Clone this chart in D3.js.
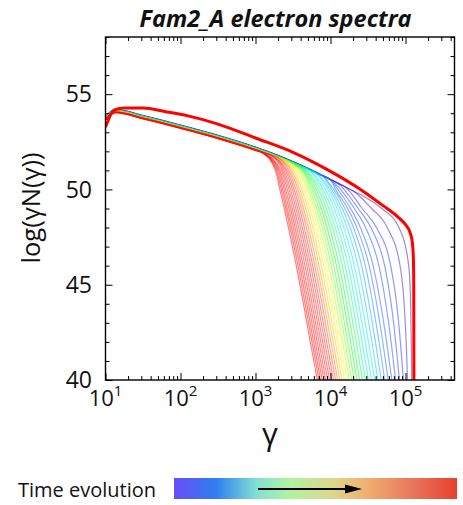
<!DOCTYPE html>
<html><head><meta charset="utf-8">
<script src="https://cdn.jsdelivr.net/npm/d3@7"></script>
<style>body{margin:0;background:#fff} svg{display:block}</style>
</head><body>
<svg id="chart" width="463" height="505"></svg>
<script>
// ---------------- DATA ----------------
const chartTitle = "Fam2_A electron spectra";
const yAxisTitle = "log(\u03B3N(\u03B3))";
const xAxisTitle = "\u03B3";
const legendText = "Time evolution";

const xMajorTicks = [1e1, 1e2, 1e3, 1e4, 1e5];
const xTickExponents = ["1", "2", "3", "4", "5"];
const yMajorTicks = [40, 45, 50, 55];

// common (uncooled) part of the thin spectra, log10(gamma) vs log(gamma N)
const envelopeLogGamma = [1.0, 1.13, 1.5, 2.0, 2.5, 3.0, 3.1, 3.2, 3.3, 3.4, 3.5, 3.6, 3.7, 3.8, 3.9, 4.0, 4.1, 4.2, 4.3, 4.4, 4.5];
const envelopeLogN     = [53.82, 54.20, 53.88, 53.38, 52.84, 52.22, 52.08, 51.94, 51.79, 51.63, 51.46, 51.29, 51.11, 50.92, 50.73, 50.53, 50.33, 50.13, 49.93, 49.73, 49.53];

// per-curve (earliest -> latest) offset of the common part
const curveShift = [0, -0.005, -0.01, -0.015, -0.02, -0.025, -0.03, -0.035, -0.04, -0.045, -0.05, -0.055, -0.06, -0.065, -0.07, -0.075, -0.08, -0.085, -0.09, -0.095, -0.10, -0.105, -0.11, -0.115, -0.12, -0.125, -0.13, -0.135, -0.14, -0.145, -0.15, -0.155, -0.16, -0.165, -0.17, -0.175];
// log10(gamma) where each curve leaves the common part
const curveKnee = [4.4, 4.3, 4.2, 4.1, 4.0, 4.0, 4.0, 3.9, 3.9, 3.8, 3.8, 3.7, 3.7, 3.6, 3.6, 3.6, 3.5, 3.5, 3.5, 3.4, 3.4, 3.4, 3.3, 3.3, 3.3, 3.3, 3.2, 3.2, 3.2, 3.2, 3.1, 3.1, 3.1, 3.1, 3.1, 3.1];
// high-energy tails: log10(gamma) at which each curve crosses these levels
const tailLevels = [51, 50, 49, 48, 46, 44, 42, 40];
const tailLogGamma = [
  [null, null, 4.683, 4.913, 5.043, 5.068, 5.077, 5.083],
  [null, null, 4.547, 4.757, 4.927, 4.982, 5.009, 5.027],
  [null, null, 4.422, 4.612, 4.802, 4.882, 4.932, 4.972],
  [null, null, 4.369, 4.539, 4.722, 4.809, 4.869, 4.919],
  [null, null, 4.318, 4.468, 4.645, 4.738, 4.808, 4.868],
  [null, 4.098, 4.268, 4.398, 4.568, 4.668, 4.748, 4.818],
  [null, 4.069, 4.229, 4.351, 4.515, 4.615, 4.697, 4.769],
  [null, 4.042, 4.192, 4.306, 4.464, 4.564, 4.647, 4.722],
  [null, 4.016, 4.156, 4.262, 4.414, 4.514, 4.599, 4.676],
  [null, 3.992, 4.122, 4.220, 4.366, 4.466, 4.552, 4.632],
  [null, 3.968, 4.088, 4.178, 4.318, 4.418, 4.506, 4.588],
  [null, 3.934, 4.050, 4.138, 4.276, 4.375, 4.463, 4.546],
  [null, 3.901, 4.013, 4.099, 4.235, 4.333, 4.422, 4.505],
  [null, 3.870, 3.978, 4.062, 4.196, 4.294, 4.382, 4.466],
  [null, 3.839, 3.943, 4.025, 4.157, 4.254, 4.343, 4.427],
  [null, 3.809, 3.909, 3.989, 4.116, 4.215, 4.304, 4.389],
  [null, 3.781, 3.877, 3.955, 4.080, 4.178, 4.267, 4.353],
  [3.637, 3.753, 3.845, 3.921, 4.044, 4.141, 4.231, 4.317],
  [3.610, 3.727, 3.815, 3.889, 4.010, 4.107, 4.196, 4.283],
  [3.582, 3.701, 3.785, 3.857, 3.976, 4.072, 4.162, 4.249],
  [3.557, 3.677, 3.757, 3.827, 3.942, 4.039, 4.129, 4.217],
  [3.532, 3.648, 3.726, 3.795, 3.910, 4.007, 4.097, 4.185],
  [3.507, 3.619, 3.697, 3.765, 3.878, 3.975, 4.065, 4.154],
  [3.484, 3.592, 3.668, 3.735, 3.848, 3.945, 4.035, 4.124],
  [3.462, 3.566, 3.640, 3.706, 3.819, 3.915, 4.006, 4.095],
  [3.440, 3.540, 3.614, 3.679, 3.790, 3.887, 3.977, 4.067],
  [3.419, 3.515, 3.587, 3.651, 3.762, 3.858, 3.949, 4.039],
  [3.400, 3.492, 3.562, 3.625, 3.736, 3.832, 3.923, 4.013],
  [3.380, 3.468, 3.538, 3.600, 3.709, 3.805, 3.896, 3.987],
  [3.362, 3.446, 3.514, 3.575, 3.684, 3.780, 3.871, 3.962],
  [3.344, 3.424, 3.490, 3.550, 3.659, 3.754, 3.846, 3.937],
  [3.326, 3.402, 3.468, 3.527, 3.634, 3.730, 3.822, 3.913],
  [3.310, 3.382, 3.446, 3.504, 3.611, 3.706, 3.798, 3.890],
  [3.294, 3.362, 3.424, 3.481, 3.588, 3.683, 3.775, 3.867],
  [3.279, 3.343, 3.405, 3.461, 3.566, 3.661, 3.753, 3.846],
  [3.264, 3.324, 3.384, 3.439, 3.544, 3.639, 3.731, 3.824]
];

// thick red spectrum
const injLogGamma = [1.0, 1.12, 1.25, 1.5, 1.8, 2.1, 2.5, 3.0, 3.5, 4.0, 4.4, 4.7, 4.9, 5.0, 5.06, 5.09, 5.105, 5.11, 5.112];
const injLogN     = [53.27, 54.18, 54.27, 54.27, 54.08, 53.86, 53.43, 52.70, 51.95, 50.95, 50.00, 49.15, 48.55, 48.15, 47.75, 47.25, 46.40, 45.00, 40.00];

// colour map for the time sequence
const colorStops  = [0, 0.05, 0.18, 0.28, 0.36, 0.46, 0.58, 0.66, 0.74, 1];
const colorValues = ["#4a1090", "#2a2aff", "#2070ff", "#00e8ff", "#00ff9a", "#00ff00", "#ffff00", "#ff9a00", "#ff2a2a", "#ff0000"];
const barStops  = [0, 0.15, 0.29, 0.41, 0.56, 0.68, 0.86, 1];
const barColors = ["#6b4cf6", "#2f7ff0", "#80e0d4", "#b2f2a0", "#dcd78c", "#f0b070", "#e8705a", "#e8402f"];

// ---------------- CHART ----------------
const svg = d3.select("#chart");
const FONT = "'Open Sans', 'Noto Sans', sans-serif";
const L = 105.5, R = 454.5, T = 37, B = 380;
const x = d3.scaleLog().domain([10, 4.5e5]).range([L, R]);
const y = d3.scaleLinear().domain([40, 58]).range([B, T]);
const color = d3.scaleLinear().domain(colorStops).range(colorValues);

svg.append("defs").append("clipPath").attr("id", "plotclip")
  .append("rect").attr("x", L).attr("y", T).attr("width", R - L).attr("height", B - T);

const line = d3.line().x(d => x(Math.pow(10, d[0]))).y(d => y(d[1])).curve(d3.curveMonotoneX);

const plot = svg.append("g").attr("clip-path", "url(#plotclip)");
const nC = tailLogGamma.length;
tailLogGamma.forEach((row, k) => {
  const pts = [];
  envelopeLogGamma.forEach((lg, i) => {
    if (lg <= curveKnee[k] + 1e-9) pts.push([lg, envelopeLogN[i] + curveShift[k]]);
  });
  row.forEach((lg, j) => { if (lg !== null) pts.push([lg, tailLevels[j]]); });
  plot.append("path").attr("d", line(pts))
    .attr("fill", "none").attr("stroke", color(k / (nC - 1)))
    .attr("stroke-opacity", 0.5).attr("stroke-width", 1.2);
});
plot.append("path").attr("d", line(injLogGamma.map((g, i) => [g, injLogN[i]])))
  .attr("fill", "none").attr("stroke", "#ff0000").attr("stroke-width", 3).attr("stroke-linejoin", "round");

// axes (ticks inward)
const xMinor = [];
for (let e = 1; e <= 5; e++) for (let m = 2; m <= 9; m++) { const v = m * Math.pow(10, e); if (v <= 4.5e5) xMinor.push(v); }
const yMinor = d3.range(40, 59).filter(v => !yMajorTicks.includes(v));

function styleAxis(g) { g.select(".domain").remove(); g.selectAll("line").attr("stroke", "#000").attr("stroke-width", 1); }
svg.append("g").attr("transform", `translate(0,${B})`).call(d3.axisBottom(x).tickValues(xMajorTicks).tickSize(-7).tickFormat("")).call(styleAxis);
svg.append("g").attr("transform", `translate(0,${B})`).call(d3.axisBottom(x).tickValues(xMinor).tickSize(-4).tickFormat("")).call(styleAxis);
svg.append("g").attr("transform", `translate(0,${T})`).call(d3.axisTop(x).tickValues(xMajorTicks).tickSize(-7).tickFormat("")).call(styleAxis);
svg.append("g").attr("transform", `translate(0,${T})`).call(d3.axisTop(x).tickValues(xMinor).tickSize(-4).tickFormat("")).call(styleAxis);
svg.append("g").attr("transform", `translate(${L},0)`).call(d3.axisLeft(y).tickValues(yMajorTicks).tickSize(-7).tickFormat("")).call(styleAxis);
svg.append("g").attr("transform", `translate(${L},0)`).call(d3.axisLeft(y).tickValues(yMinor).tickSize(-4).tickFormat("")).call(styleAxis);
svg.append("g").attr("transform", `translate(${R},0)`).call(d3.axisRight(y).tickValues(yMajorTicks).tickSize(-7).tickFormat("")).call(styleAxis);
svg.append("g").attr("transform", `translate(${R},0)`).call(d3.axisRight(y).tickValues(yMinor).tickSize(-4).tickFormat("")).call(styleAxis);

svg.append("rect").attr("x", L).attr("y", T).attr("width", R - L).attr("height", B - T)
  .attr("fill", "none").attr("stroke", "#000").attr("stroke-width", 1.4);

// tick labels
xMajorTicks.forEach((v, i) => {
  const t = svg.append("text").attr("x", x(v)).attr("y", 406).attr("text-anchor", "middle")
    .attr("font-family", FONT).attr("font-size", 22).attr("fill", "#111");
  t.append("tspan").text("10");
  t.append("tspan").attr("dy", -10).attr("font-size", 15).text(xTickExponents[i]);
});
yMajorTicks.forEach(v => {
  svg.append("text").attr("x", 92).attr("y", y(v)).attr("dy", "0.36em").attr("text-anchor", "end")
    .attr("font-family", FONT).attr("font-size", 23).attr("fill", "#111").text(v);
});

// titles
svg.append("text").attr("x", 275.5).attr("y", 26.5).attr("text-anchor", "middle")
  .attr("font-family", FONT).attr("font-weight", "bold").attr("font-style", "italic")
  .attr("font-size", 23.5).attr("fill", "#111").text(chartTitle);
svg.append("text").attr("transform", "translate(31,208) rotate(-90)").attr("dy", "0.35em")
  .attr("text-anchor", "middle").attr("font-family", FONT).attr("font-size", 25.5).attr("fill", "#111").text(yAxisTitle);
svg.append("text").attr("x", 270).attr("y", 445).attr("text-anchor", "middle")
  .attr("font-family", FONT).attr("font-size", 31).attr("fill", "#111").text(xAxisTitle);

// legend
const grad = svg.select("defs").append("linearGradient").attr("id", "timegrad");
barStops.forEach((s, i) => grad.append("stop").attr("offset", s).attr("stop-color", barColors[i]));
svg.append("rect").attr("x", 174).attr("y", 478).attr("width", 283).attr("height", 21).attr("fill", "url(#timegrad)");
svg.append("line").attr("x1", 258).attr("x2", 348).attr("y1", 489).attr("y2", 489).attr("stroke", "#000").attr("stroke-width", 2);
svg.append("path").attr("d", "M345,484.5 L362,489 L345,493.5 Z").attr("fill", "#000");
svg.append("text").attr("x", 18).attr("y", 497).attr("font-family", FONT).attr("font-size", 20).attr("fill", "#111").text(legendText);
</script>
</body></html>
